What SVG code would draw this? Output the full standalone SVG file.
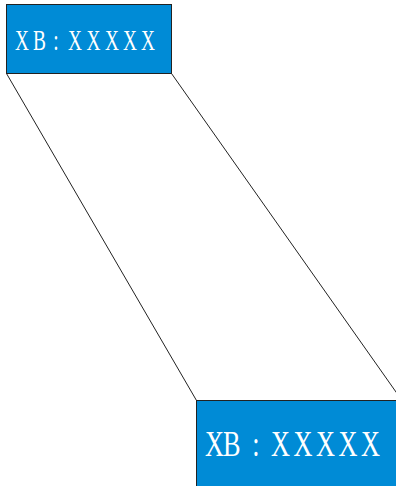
<svg xmlns="http://www.w3.org/2000/svg" width="396" height="486" viewBox="0 0 396 486">
<style>
.box{fill:#008bd6;stroke:#222;stroke-width:1}
.lbl{fill:#fff;font-family:"Liberation Serif",serif}
.con{stroke:#222;stroke-width:1;fill:none}
</style>
<rect width="396" height="486" fill="#fff"/>
<g id="connectors">
<line class="con" x1="6.5" y1="73.5" x2="196.5" y2="400.5"/>
<line class="con" x1="171.5" y1="73.5" x2="402" y2="400.5"/>
</g>
<g id="node1">
<rect class="box" x="6.5" y="4.5" width="165" height="69"/>
<text class="lbl" font-size="30" transform="translate(15,50) scale(0.645,1)" x="0 27.9 59.4 82.2 110.9 139.5 167.4 195.3" y="0">XB:XXXXX</text>
</g>
<g id="node2">
<rect class="box" x="196.5" y="400.5" width="206" height="90"/>
<text class="lbl" font-size="36" transform="translate(205,456) scale(0.73,1)" x="0 24.7 64.9 90.4 121.2 152.1 182.9 213.7" y="0">XB:XXXXX</text>
</g>
</svg>
